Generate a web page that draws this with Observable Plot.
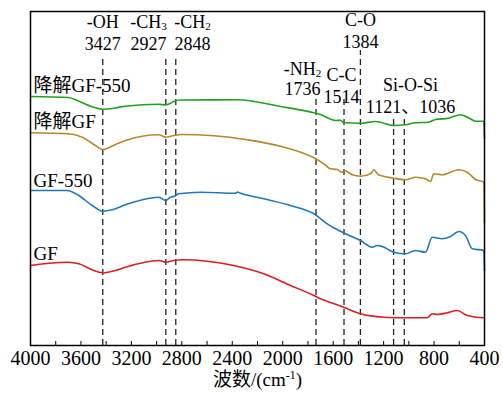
<!DOCTYPE html>
<html>
<head>
<meta charset="utf-8">
<script src="https://cdn.jsdelivr.net/npm/d3@7"></script>
<script src="https://cdn.jsdelivr.net/npm/@observablehq/plot@0.6"></script>
<style>
  html, body { margin: 0; padding: 0; background: #fff; }
  #chart svg { display: block; }
</style>
</head>
<body>
<div id="chart"></div>
<script>
// ---------- data (y = relative transmittance, a.u.) ----------
const seriesNames = ["降解GF-550", "降解GF", "GF-550", "GF"];
const seriesColors = ["#23a023", "#b3882c", "#1f77b9", "#d61f24"];

const dgf550Wn = [4000, 3700, 3617, 3485, 3427, 3330, 3247, 2983, 2927, 2890, 2864, 2810, 2361, 2017, 1753, 1700, 1608, 1581, 1542, 1516, 1383, 1264, 1119, 1026, 947, 844, 788, 685, 590, 527, 471, 405, 400];
const dgf550T  = [249, 248, 244.3, 237.7, 236.3, 237.5, 239.3, 241.3, 240.5, 242.3, 244, 245.5, 245.7, 239, 232.7, 231, 225.7, 225, 225.3, 222.7, 222.3, 224, 220, 220.7, 222.7, 223.3, 226, 227.3, 230.7, 227.7, 224.3, 224.3, 207];

const dgfWn = [4000, 3699, 3590, 3485, 3427, 3326, 3247, 2983, 2927, 2864, 2810, 2546, 2282, 2017, 1753, 1674, 1621, 1568, 1530, 1510, 1449, 1383, 1300, 1278, 1240, 1119, 1026, 947, 868, 828, 802, 735, 604, 537, 471, 405, 400];
const dgfT  = [212.7, 211.7, 208.3, 200, 196, 201, 205, 210.7, 208.3, 210, 211, 209.7, 205.7, 199.3, 187.7, 181.7, 176.7, 176, 173.3, 175, 170.7, 169.3, 172, 175.7, 170.7, 167.3, 165.7, 168.3, 166.7, 164, 171.7, 170.7, 175.7, 173.3, 166, 163.3, 123];

const gf550Wn = [4000, 3709, 3617, 3511, 3427, 3352, 3247, 2983, 2927, 2890, 2864, 2824, 2652, 2374, 2360, 2340, 2150, 1938, 1753, 1647, 1581, 1555, 1502, 1383, 1290, 1250, 1211, 1119, 1026, 947, 868, 815, 735, 669, 604, 551, 497, 405, 400];
const gf550T  = [155, 155, 150, 140, 134.3, 135.7, 140.7, 148.3, 145, 148.3, 149, 151.7, 153.3, 152.3, 153.5, 152.5, 146.7, 140, 131.7, 121.7, 116.7, 115, 111.7, 105, 98.3, 100, 99, 93.3, 91.7, 95, 93.3, 108.3, 106.7, 109, 114, 110, 96.7, 95, 75];

const gfWn = [4000, 3709, 3617, 3511, 3431, 3326, 3247, 2983, 2927, 2864, 2784, 2599, 2388, 2150, 1938, 1753, 1727, 1516, 1383, 1198, 1040, 854, 815, 774, 696, 616, 537, 405, 400];
const gfT  = [80, 83.3, 81.7, 75.7, 72.7, 75, 78.3, 85, 83.3, 85, 85.7, 84.3, 80, 71.7, 60, 50, 48.3, 38.3, 31.7, 28.3, 27.7, 27.7, 31.7, 31, 32.7, 35, 30, 27.7, 27.7];

const peakWn     = [3427, 2927, 2848, 1736, 1514, 1384, 1121, 1036];
const peakGroups = ["-OH", "-CH_{3}", "-CH_{2}", "-NH_{2}", "C-C", "C-O", "Si-O-Si"];
const peakNumberLabels = ["3427", "2927", "2848", "1736", "1514", "1384", "1121、1036"];

const xTickLabels = [4000, 3600, 3200, 2800, 2400, 2000, 1600, 1200, 800, 400];
const xMinorTicks = d3.range(400, 4001, 200);
const xTitle = "波数/(cm^{-1})";

// ---------- build tables ----------
const wnArrays = [dgf550Wn, dgfWn, gf550Wn, gfWn];
const tArrays = [dgf550T, dgfT, gf550T, gfT];
const spectra = seriesNames.flatMap((name, i) =>
  wnArrays[i].map((wn, j) => ({series: name, wn, t: tArrays[i][j]})));

// ---------- layout (not data) ----------
const H = 395, W = 503, mt = 11, mb = 50, ml = 30, mr = 19;
const px = (yPix) => (H - mb) - yPix;   // pixel row -> y units (1 unit = 1 px)
const ruleTops = [55, 55, 55, 97, 97, 50, 115, 115].map(px);
const rules = peakWn.map((wn, i) => ({wn, top: ruleTops[i]}));
// label anchors: [x wavenumber centre, name row centre, number row centre]
const labelPlace = [
  [3427, 21.5, 43.5], [3064, 21.5, 43.5], [2715, 21.5, 43.5],
  [1843, 68.5, 89], [1534, 75, 96.5], [1383, 20, 41.5], [987, 85, 106.5]
];
const nameLabels = peakGroups.map((g, i) => ({x: labelPlace[i][0], y: px(labelPlace[i][1]), text: g}));
const numLabels = peakNumberLabels.map((g, i) => ({x: labelPlace[i][0], y: px(labelPlace[i][2]), text: g}));
const seriesLabelRows = [85, 121.5, 180.5, 253.5];
const seriesLabels = seriesNames.map((s, i) => ({text: s, y: px(seriesLabelRows[i])}));

const serif = "'Liberation Serif', 'Times New Roman', 'Noto Sans CJK SC', serif";

const chart = Plot.plot({
  width: W, height: H,
  marginTop: mt, marginBottom: mb, marginLeft: ml, marginRight: mr,
  style: {fontFamily: serif, color: "#000", background: "#fff"},
  x: {domain: [4000, 400]},
  y: {domain: [0, (H - mb) - mt], axis: null},
  color: {domain: seriesNames, range: seriesColors},
  marks: [
    Plot.ruleX(rules, {x: "wn", y1: 0, y2: "top", stroke: "#222", strokeWidth: 1.3, strokeDasharray: "6,4"}),
    Plot.line(spectra, {x: "wn", y: "t", z: "series", stroke: "series", strokeWidth: 1.6, curve: "monotone-x"}),
    Plot.ruleX(xMinorTicks, {x: d => d, y1: 0, y2: 4, stroke: "#000", strokeWidth: 1}),
    Plot.axisX({ticks: xTickLabels, tickSize: 0, tickPadding: 5, fontSize: 20, tickFormat: d => String(d)}),
    Plot.frame({stroke: "#000", strokeWidth: 1.5}),
    Plot.text(nameLabels, {x: "x", y: "y", text: "text", fontSize: 18, textAnchor: "middle", fill: "#000"}),
    Plot.text(numLabels, {x: "x", y: "y", text: "text", fontSize: 18, textAnchor: "middle", fill: "#000"}),
    Plot.text(seriesLabels, {frameAnchor: "left", dx: 3, y: "y", text: "text", fontSize: 19, textAnchor: "start", fill: "#000"}),
    Plot.text([xTitle], {frameAnchor: "bottom", dy: 40, text: d => d, fontSize: 19, textAnchor: "middle", fill: "#000"})
  ]
});

// rich text: _{..} subscript, ^{..} superscript
const NS = "http://www.w3.org/2000/svg";
chart.querySelectorAll("text").forEach(el => {
  const targets = el.querySelectorAll("tspan").length ? el.querySelectorAll("tspan") : [el];
  targets.forEach(node => {
    const s = node.textContent;
    if (!/[_^]\{/.test(s)) return;
    node.textContent = "";
    s.split(/([_^]\{[^}]*\})/).forEach(p => {
      if (!p) return;
      const t = document.createElementNS(NS, "tspan");
      const m = p.match(/^([_^])\{([^}]*)\}$/);
      if (m) {
        t.textContent = m[2];
        t.setAttribute("font-size", "62%");
        t.setAttribute("baseline-shift", m[1] === "_" ? "-22%" : "55%");
      } else {
        t.textContent = p;
      }
      node.appendChild(t);
    });
  });
});

document.getElementById("chart").appendChild(chart);
</script>
</body>
</html>
